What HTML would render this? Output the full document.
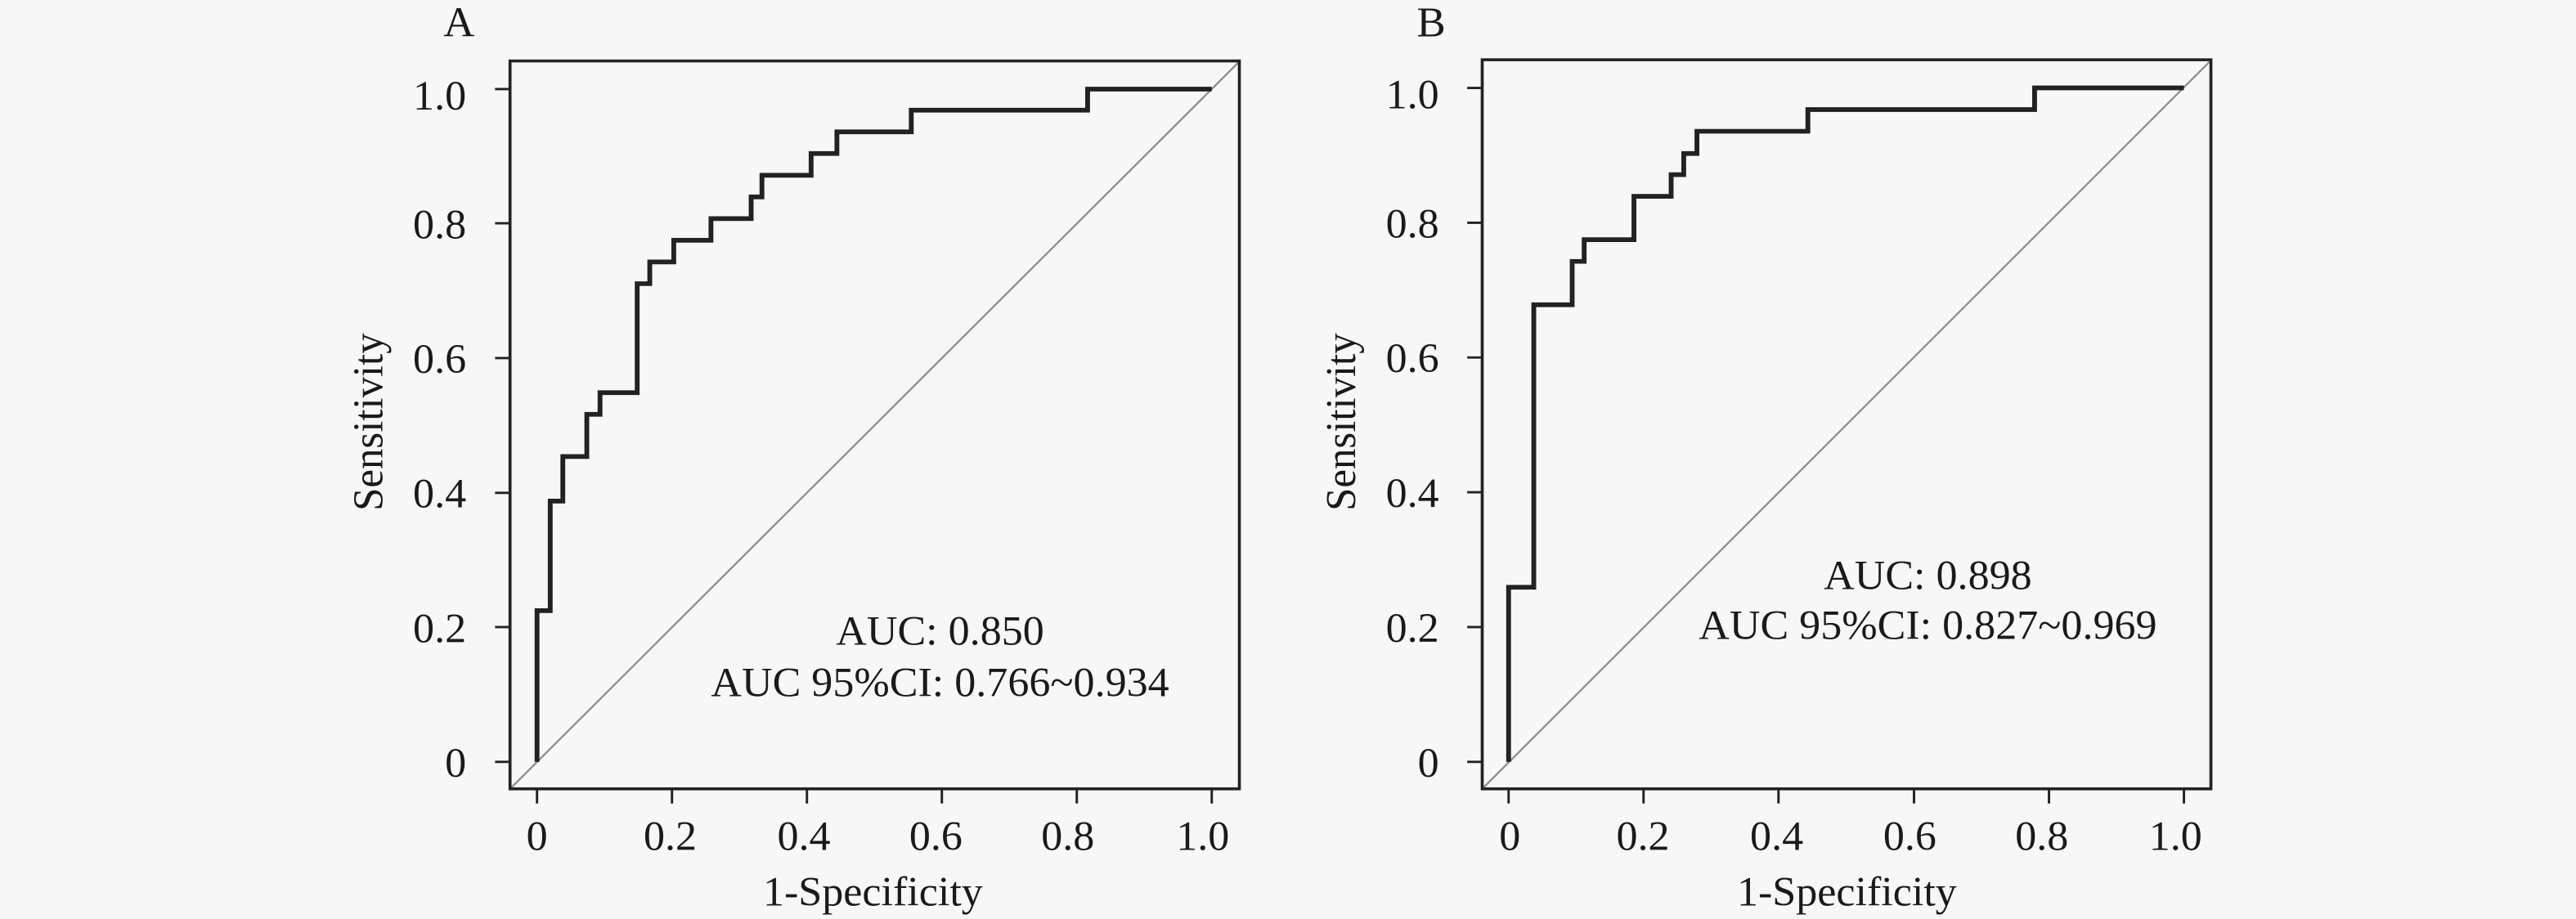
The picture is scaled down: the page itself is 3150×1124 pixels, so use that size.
<!DOCTYPE html>
<html><head><meta charset="utf-8"><style>
html,body{margin:0;padding:0;background:#f7f7f7;}
svg{display:block;}
text{font-family:"Liberation Serif",serif;fill:#1a1a1a;}
</style></head><body>
<svg width="3150" height="1124" viewBox="0 0 3150 1124" xmlns="http://www.w3.org/2000/svg">
<rect width="3150" height="1124" fill="#f7f7f7"/>
<!-- Panel A -->
<g transform="translate(400,0) scale(0.7334,0.7168)">
  <text x="220" y="62" font-size="72" text-anchor="middle">A</text>
  <line x1="305" y1="1346" x2="1521" y2="105" stroke="#8a8a8a" stroke-width="3"/>
  <rect x="305" y="104" width="1216" height="1242" fill="none" stroke="#222" stroke-width="5"/>
  <g stroke="#222" stroke-width="4">
    <line x1="280" y1="1300" x2="305" y2="1300"/><line x1="280" y1="1070" x2="305" y2="1070"/>
    <line x1="280" y1="841" x2="305" y2="841"/><line x1="280" y1="611" x2="305" y2="611"/>
    <line x1="280" y1="381" x2="305" y2="381"/><line x1="280" y1="152" x2="305" y2="152"/>
    <line x1="350" y1="1346" x2="350" y2="1371"/><line x1="575" y1="1346" x2="575" y2="1371"/>
    <line x1="800" y1="1346" x2="800" y2="1371"/><line x1="1025" y1="1346" x2="1025" y2="1371"/>
    <line x1="1250" y1="1346" x2="1250" y2="1371"/><line x1="1475" y1="1346" x2="1475" y2="1371"/>
  </g>
  <g font-size="71" text-anchor="end">
    <text x="232" y="1325">0</text><text x="232" y="1096">0.2</text><text x="232" y="866">0.4</text>
    <text x="232" y="636">0.6</text><text x="232" y="407">0.8</text><text x="232" y="187">1.0</text>
  </g>
  <g font-size="71" text-anchor="middle">
    <text x="350" y="1450">0</text><text x="572" y="1450">0.2</text><text x="795" y="1450">0.4</text>
    <text x="1015" y="1450">0.6</text><text x="1235" y="1450">0.8</text><text x="1460" y="1450">1.0</text>
    <text x="910" y="1545">1-Specificity</text>
    <text transform="translate(92,720) rotate(-90)">Sensitivity</text>
    <text x="1022" y="1100">AUC: 0.850</text>
    <text x="1022" y="1188">AUC 95%CI: 0.766~0.934</text>
  </g>
  <path d="M350 1300 V1042 H372 V855 H393 V779 H433 V707 H455 V670 H517 V484 H538 V447 H578 V410 H640 V373 H707 V336 H725 V299 H807 V262 H850 V225 H974 V188 H1268 V152 H1475" fill="none" stroke="#222" stroke-width="8"/>
</g>
<!-- Panel B -->
<g transform="translate(1580,0) scale(0.7334,0.7168)">
  <text x="232" y="62" font-size="72" text-anchor="middle">B</text>
  <line x1="317" y1="1346" x2="1532" y2="103" stroke="#8a8a8a" stroke-width="3"/>
  <rect x="317" y="102" width="1215" height="1244" fill="none" stroke="#222" stroke-width="5"/>
  <g stroke="#222" stroke-width="4">
    <line x1="292" y1="1300" x2="317" y2="1300"/><line x1="292" y1="1070" x2="317" y2="1070"/>
    <line x1="292" y1="840" x2="317" y2="840"/><line x1="292" y1="610" x2="317" y2="610"/>
    <line x1="292" y1="380" x2="317" y2="380"/><line x1="292" y1="150" x2="317" y2="150"/>
    <line x1="361" y1="1346" x2="361" y2="1371"/><line x1="586" y1="1346" x2="586" y2="1371"/>
    <line x1="811" y1="1346" x2="811" y2="1371"/><line x1="1037" y1="1346" x2="1037" y2="1371"/>
    <line x1="1262" y1="1346" x2="1262" y2="1371"/><line x1="1487" y1="1346" x2="1487" y2="1371"/>
  </g>
  <g font-size="71" text-anchor="end">
    <text x="245" y="1325">0</text><text x="245" y="1095">0.2</text><text x="245" y="865">0.4</text>
    <text x="245" y="635">0.6</text><text x="245" y="405">0.8</text><text x="245" y="185">1.0</text>
  </g>
  <g font-size="71" text-anchor="middle">
    <text x="363" y="1450">0</text><text x="585" y="1450">0.2</text><text x="808" y="1450">0.4</text>
    <text x="1030" y="1450">0.6</text><text x="1250" y="1450">0.8</text><text x="1473" y="1450">1.0</text>
    <text x="925" y="1545">1-Specificity</text>
    <text transform="translate(105,720) rotate(-90)">Sensitivity</text>
    <text x="1060" y="1005">AUC: 0.898</text>
    <text x="1060" y="1090">AUC 95%CI: 0.827~0.969</text>
  </g>
  <path d="M361 1300 V1002 H403 V520 H467 V446 H487 V409 H570 V335 H632 V298 H653 V262 H675 V224 H860 V187 H1238 V150 H1487" fill="none" stroke="#222" stroke-width="8"/>
</g>
</svg>
</body></html>
